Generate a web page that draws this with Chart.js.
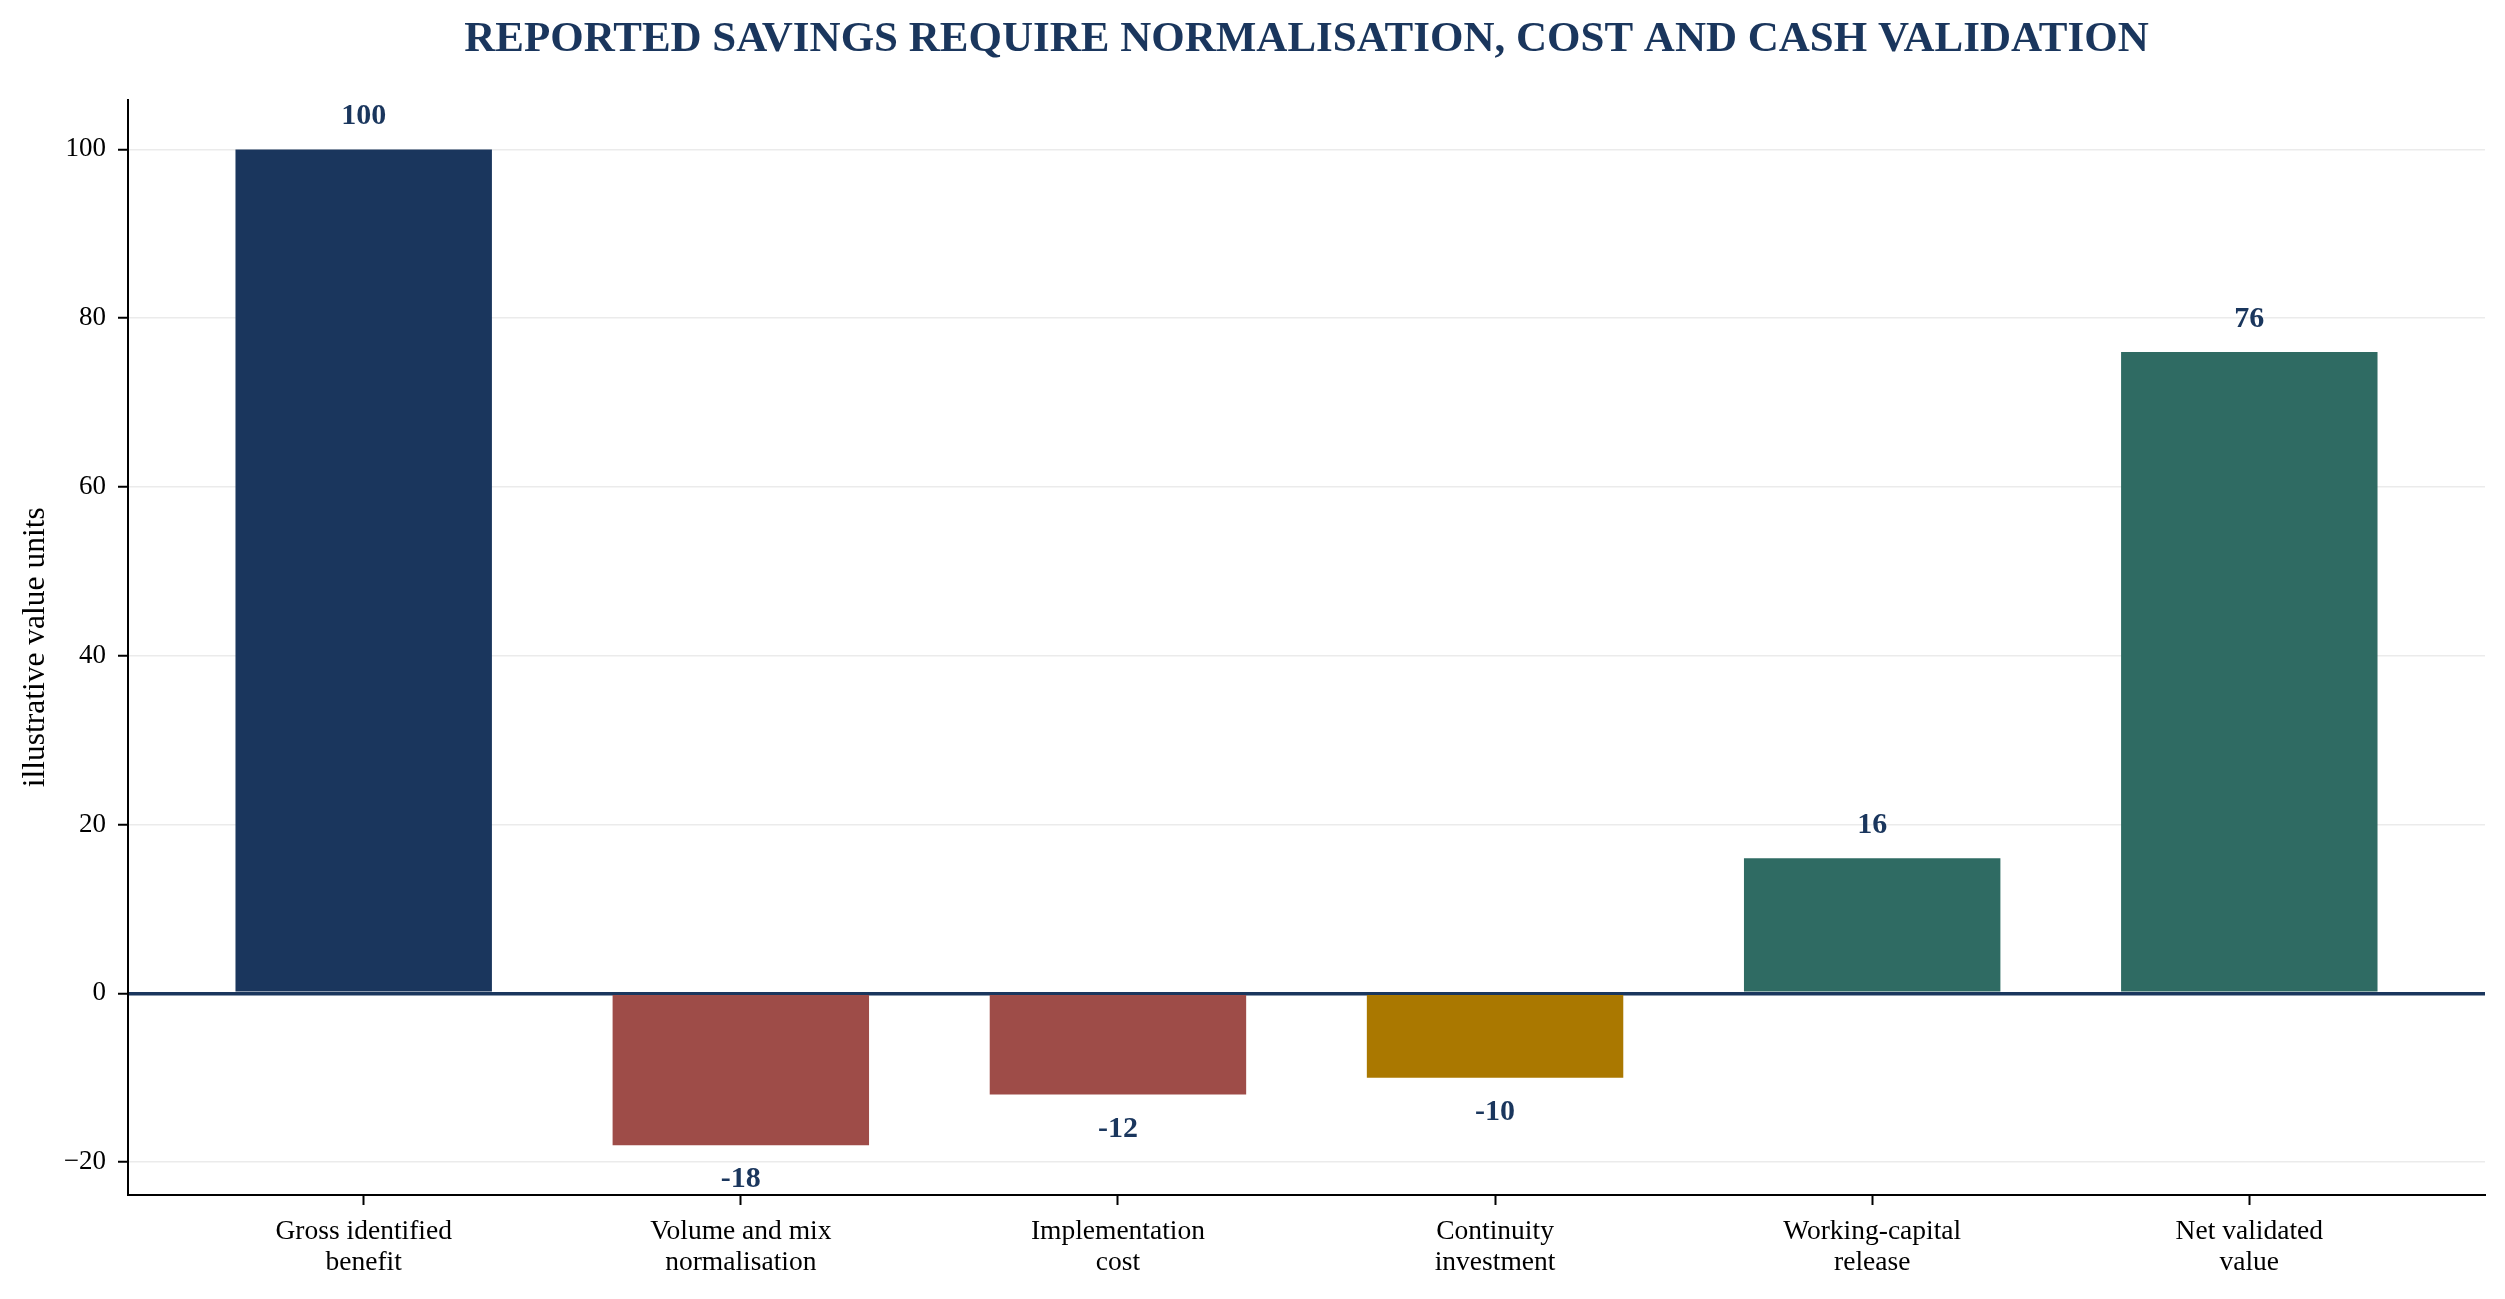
<!DOCTYPE html>
<html>
<head>
<meta charset="utf-8">
<script src="https://cdn.jsdelivr.net/npm/chart.js@4.4.1/dist/chart.umd.min.js"></script>
<style>
  html, body { margin: 0; padding: 0; background: #fff; }
  #wrap { width: 2505px; height: 1299px; }
</style>
</head>
<body>
<div id="wrap"><canvas id="savingsChart"></canvas></div>
<script>
const categories = [
  'Gross identified\nbenefit',
  'Volume and mix\nnormalisation',
  'Implementation\ncost',
  'Continuity\ninvestment',
  'Working-capital\nrelease',
  'Net validated\nvalue',
]
const values = [100, -18, -12, -10, 16, 76]
const yTicks = [-20, 0, 20, 40, 60, 80, 100]

const NAVY = '#1a365d'
const BAR_COLORS = ['#1a365d', '#9e4c48', '#9e4c48', '#aa7800', '#2f6b63', '#2f6b63']
const FONT = '"Liberation Serif", "Times New Roman", serif'

// value labels above / below each bar
const valueLabels = {
  id: 'valueLabels',
  afterDraw(chart) {
    const {ctx} = chart
    const meta = chart.getDatasetMeta(0)
    ctx.save()
    ctx.font = `bold 30px ${FONT}`
    ctx.fillStyle = NAVY
    ctx.textAlign = 'center'
    ctx.textBaseline = 'alphabetic'
    meta.data.forEach((bar, i) => {
      const v = values[i]
      const y = v >= 0 ? bar.y - 25 : bar.y + 42
      ctx.fillText(String(v), bar.x, y)
    })
    ctx.restore()
  }
}

const ctx = document.getElementById('savingsChart').getContext('2d')
new Chart(ctx, {
  type: 'bar',
  data: {
    datasets: [{
      data: values.map((v, i) => ({x: i, y: v})),
      backgroundColor: BAR_COLORS,
      borderWidth: 0,
      categoryPercentage: 1,
      barPercentage: 0.68,
    }]
  },
  plugins: [valueLabels],
  options: {
    responsive: true,
    maintainAspectRatio: false,
    animation: false,
    layout: { padding: { left: 0, right: 20, top: 0, bottom: 0 } },
    plugins: {
      legend: { display: false },
      tooltip: { enabled: false },
      title: {
        display: true,
        fullSize: false,
        text: 'REPORTED SAVINGS REQUIRE NORMALISATION, COST AND CASH VALIDATION',
        color: NAVY,
        font: { family: FONT, size: 43, weight: 'bold', lineHeight: 1.2 },
        padding: { top: 14, bottom: 34 },
      },
    },
    scales: {
      x: {
        type: 'linear',
        min: -0.625,
        max: 5.625,
        offset: false,
        afterBuildTicks: (scale) => { scale.ticks = categories.map((c, i) => ({value: i})) },
        afterFit: (scale) => { scale.height = 104 },
        ticks: {
          color: '#000',
          font: { family: FONT, size: 27.5, lineHeight: 1.1 },
          padding: 12,
          autoSkip: false,
          maxRotation: 0,
          callback: (v) => categories[v] ? categories[v].split('\n') : '',
        },
        grid: {
          display: true,
          drawOnChartArea: false,
          offset: false,
          tickColor: '#000',
          tickLength: 10,
          tickWidth: 2,
        },
        border: { display: true, color: '#000', width: 2 },
      },
      y: {
        min: -23.9,
        max: 105.9,
        z: 1,
        afterBuildTicks: (scale) => { scale.ticks = yTicks.map(v => ({value: v})) },
        afterFit: (scale) => { scale.width = 128 },
        ticks: {
          color: '#000',
          font: { family: FONT, size: 27 },
          padding: 12,
          callback: (v) => v < 0 ? '\u2212' + Math.abs(v) : String(v),
        },
        grid: {
          color: (c) => c.tick && c.tick.value === 0 ? NAVY : 'rgba(176, 176, 176, 0.25)',
          lineWidth: (c) => c.tick && c.tick.value === 0 ? 3.5 : 1.5,
          tickColor: '#000',
          tickLength: 10,
          tickWidth: 2,
        },
        border: { display: true, color: '#000', width: 2 },
        title: {
          display: true,
          text: 'illustrative value units',
          color: '#000',
          font: { family: FONT, size: 31.5 },
          padding: { top: 17, bottom: 0 },
        },
      },
    },
  },
})
</script>
</body>
</html>
